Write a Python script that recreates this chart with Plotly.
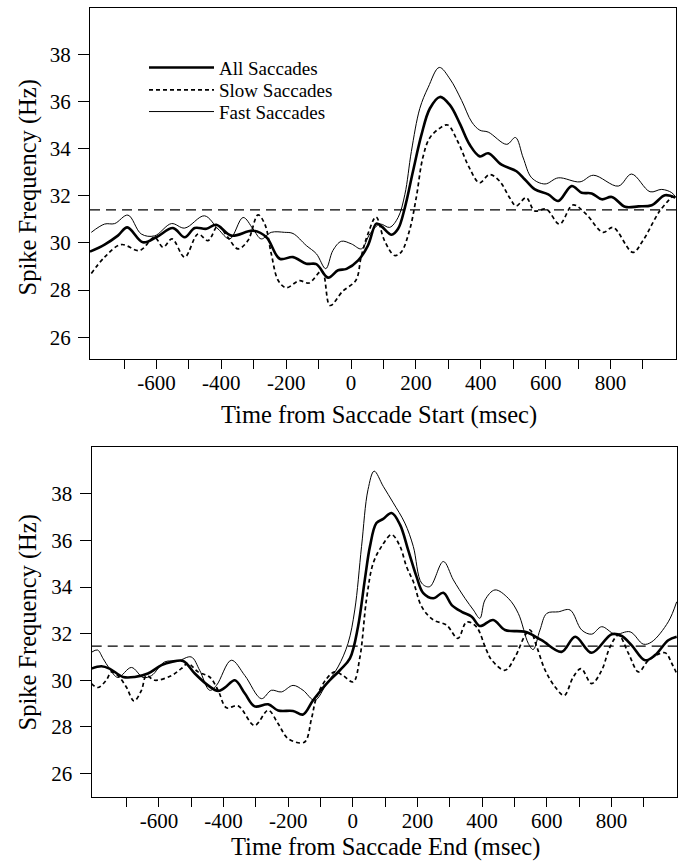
import plotly.graph_objects as go

# ---------------- data ----------------
BASELINE_START = 31.40
BASELINE_END = 31.47

# Top panel: time from saccade start
start_all_t = [-805, -760, -719, -690, -642, -601, -549, -513, -482, -446, -416, -369, -302, -261, -220, -179, -138, -107, -71, -40, -14, 22, 52, 78, 94, 125, 145, 166, 191, 217, 243, 274, 305, 335, 366, 397, 423, 464, 510, 536, 567, 608, 639, 680, 711, 742, 773, 804, 845, 886, 927, 968, 1000]
start_all_v = [29.63, 29.93, 30.31, 30.66, 30.03, 30.24, 30.63, 30.24, 30.63, 30.6, 30.77, 30.31, 30.52, 30.24, 29.33, 29.40, 29.12, 29.10, 28.53, 28.84, 28.9, 29.26, 29.89, 30.82, 30.7, 30.35, 30.6, 31.5, 33.04, 34.58, 35.7, 36.19, 35.84, 35.07, 34.16, 33.67, 33.8, 33.32, 33.04, 32.69, 32.27, 32.06, 31.78, 32.41, 32.13, 32.1, 31.85, 31.95, 31.53, 31.55, 31.6, 32.02, 31.92]

start_slow_t = [-801, -760, -709, -652, -606, -580, -552, -513, -472, -441, -410, -380, -349, -318, -287, -266, -246, -225, -200, -160, -130, -90, -65, -26, 15, 31, 52, 77, 103, 134, 154, 180, 201, 221, 242, 273, 298, 329, 365, 396, 427, 458, 489, 509, 540, 566, 602, 643, 684, 725, 777, 808, 869, 900, 952, 993]
start_slow_v = [28.7, 29.4, 29.93, 29.68, 30.24, 29.82, 30.17, 29.4, 30.38, 30.1, 30.73, 30.24, 29.75, 30.1, 31.19, 30.8, 29.54, 28.42, 28.1, 28.4, 28.3, 28.8, 27.35, 27.95, 28.42, 29.4, 30.38, 31.1, 30.1, 29.47, 29.6, 30.52, 31.92, 33.6, 34.44, 34.86, 35.0, 34.3, 33.18, 32.55, 32.9, 32.62, 31.92, 31.57, 31.92, 31.36, 31.43, 30.8, 31.61, 31.22, 30.45, 30.66, 29.6, 30.1, 31.36, 32.0]

start_fast_t = [-801, -760, -729, -688, -647, -606, -554, -513, -452, -410, -374, -333, -302, -277, -246, -205, -179, -138, -107, -78, -56, -30, 1, 32, 58, 89, 119, 145, 166, 186, 212, 238, 272, 305, 341, 372, 397, 423, 480, 507, 531, 557, 598, 639, 706, 747, 824, 865, 922, 958, 989, 1002]
start_fast_v = [30.45, 30.8, 30.82, 31.18, 30.38, 30.3, 30.82, 30.63, 31.15, 30.59, 30.17, 31.08, 30.59, 30.17, 30.45, 30.45, 30.4, 29.89, 29.54, 28.91, 29.68, 30.07, 29.96, 29.75, 30.38, 30.8, 30.66, 31.08, 32.06, 33.88, 35.7, 36.6, 37.44, 36.95, 36.04, 35.13, 34.78, 34.7, 34.18, 34.47, 33.6, 32.76, 32.5, 32.76, 32.59, 32.87, 32.41, 32.92, 32.17, 32.27, 32.13, 31.92]

# Bottom panel: time from saccade end
end_all_t = [-809, -778, -753, -711, -675, -634, -592, -561, -525, -489, -448, -417, -396, -365, -334, -304, -262, -231, -185, -154, -123, -81, -40, -9, 16, 37, 53, 73, 94, 120, 146, 171, 197, 218, 249, 280, 306, 337, 368, 393, 434, 471, 533, 584, 646, 688, 739, 801, 832, 863, 904, 935, 976, 1002]
end_all_v = [30.5, 30.6, 30.5, 30.14, 30.14, 30.29, 30.65, 30.79, 30.83, 30.29, 29.78, 29.54, 29.68, 30.0, 29.43, 28.88, 28.97, 28.7, 28.68, 28.53, 29.14, 29.86, 30.43, 30.94, 32.3, 34.31, 35.75, 36.75, 36.93, 37.18, 36.68, 35.6, 34.45, 33.74, 33.52, 33.76, 33.23, 32.94, 32.73, 32.33, 32.59, 32.16, 32.08, 31.72, 31.22, 31.87, 31.18, 31.98, 31.9, 31.5, 30.86, 31.08, 31.72, 31.87]

end_slow_t = [-809, -789, -763, -747, -727, -701, -677, -654, -639, -613, -561, -531, -510, -479, -443, -417, -391, -355, -304, -262, -231, -200, -150, -128, -112, -81, -56, -30, 1, 22, 42, 63, 89, 120, 146, 166, 187, 213, 249, 290, 325, 352, 382, 413, 430, 471, 502, 533, 548, 569, 595, 626, 654, 682, 706, 739, 770, 796, 822, 853, 884, 915, 966, 987, 1002]
end_slow_v = [29.86, 29.69, 30.0, 30.36, 30.2, 29.71, 29.11, 29.57, 30.2, 30.0, 30.2, 30.5, 30.72, 30.36, 30.14, 29.57, 28.82, 28.9, 28.06, 28.71, 28.13, 27.49, 27.34, 28.35, 29.28, 30.07, 30.36, 30.2, 29.93, 31.0, 33.45, 35.03, 35.75, 36.25, 35.75, 34.88, 34.24, 33.16, 32.59, 32.37, 31.8, 32.5, 32.3, 31.3, 30.86, 30.43, 31.0, 31.94, 32.16, 31.44, 30.43, 29.71, 29.35, 30.14, 30.5, 29.86, 30.43, 31.44, 31.94, 31.15, 30.36, 30.86, 31.18, 30.72, 30.29]

end_fast_t = [-809, -790, -773, -753, -727, -685, -649, -623, -582, -541, -500, -474, -443, -422, -376, -334, -283, -252, -221, -185, -154, -118, -81, -46, -15, 6, 27, 47, 66, 94, 125, 161, 187, 213, 238, 280, 311, 347, 373, 393, 409, 440, 481, 512, 543, 558, 579, 600, 636, 672, 708, 739, 770, 811, 858, 899, 925, 976, 1002]
end_fast_v = [31.2, 31.3, 30.94, 30.5, 30.12, 30.55, 30.12, 30.2, 30.79, 30.83, 31.0, 30.43, 29.57, 29.78, 30.86, 30.2, 29.21, 29.57, 29.5, 29.78, 29.57, 29.14, 29.86, 30.57, 31.58, 33.02, 35.75, 38.19, 38.98, 38.33, 37.62, 36.75, 35.75, 34.17, 34.02, 35.1, 34.31, 33.52, 33.02, 32.66, 33.45, 33.88, 33.52, 32.87, 31.58, 31.32, 32.16, 32.87, 32.94, 33.02, 32.16, 31.98, 32.3, 31.98, 32.08, 31.55, 31.65, 32.51, 33.37]

series_names = ["All Saccades", "Slow Saccades", "Fast Saccades"]
x_tick_vals = [-700, -600, -500, -400, -300, -200, -100, 0, 100, 200, 300, 400, 500, 600, 700, 800, 900]
x_tick_text = ["", "-600", "", "-400", "", "-200", "", "0", "", "200", "", "400", "", "600", "", "800", ""]
y_tick_vals = [26, 28, 30, 32, 34, 36, 38]
x_titles = ["Time from Saccade Start (msec)", "Time from Saccade End (msec)"]
y_title = "Spike Frequency (Hz)"

# ---------------- figure ----------------
W, H = 686, 863
FONT = "Liberation Serif, Times New Roman, serif"
TITLE_SIZE = 24.5

styles = [
    dict(color="black", width=2.6),
    dict(color="black", width=1.7, dash="4px,3px"),
    dict(color="black", width=1.0),
]
legend_ids = ["legend", "legend2", "legend3"]

fig = go.Figure()
panels = [
    (start_all_t, start_all_v, start_slow_t, start_slow_v, start_fast_t, start_fast_v, "x", "y", True),
    (end_all_t, end_all_v, end_slow_t, end_slow_v, end_fast_t, end_fast_v, "x2", "y2", False),
]
for (at, av, st, sv, ft, fv, xa, ya, show) in panels:
    for i, (t, v) in enumerate([(at, av), (st, sv), (ft, fv)]):
        fig.add_trace(go.Scatter(x=t, y=v, mode="lines", name=series_names[i],
                                 line=dict(shape="spline", smoothing=1.0, **styles[i]),
                                 xaxis=xa, yaxis=ya, showlegend=show,
                                 legend=legend_ids[i]))

# baselines
for xr, yr, b in [("x domain", "y", BASELINE_START), ("x2 domain", "y2", BASELINE_END)]:
    fig.add_shape(type="line", xref=xr, yref=yr, x0=0, x1=1, y0=b, y1=b,
                  line=dict(color="black", width=1.2, dash="10px,6px"))

def px_x(p):
    return p / W

def px_y(p):
    return 1 - p / H

axis_common = dict(showline=True, linecolor="black", linewidth=1.3, mirror=True,
                   ticks="outside", tickwidth=1, tickcolor="black",
                   showgrid=False, zeroline=False,
                   tickfont=dict(family=FONT, size=21, color="black"))
xaxis_common = dict(ticklen=9, tickvals=x_tick_vals, ticktext=x_tick_text,
                    ticklabelstandoff=-4, **axis_common)
yaxis_common = dict(ticklen=11, tickvals=y_tick_vals, ticklabelstandoff=3, **axis_common)

legend_rows = [67.7, 90, 111.7]
legend_common = dict(x=px_x(144), xanchor="left", yanchor="middle",
                     bgcolor="rgba(0,0,0,0)", font=dict(family=FONT, size=19, color="black"),
                     itemwidth=65)

fig.update_layout(
    width=W, height=H,
    margin=dict(l=0, r=0, t=0, b=0),
    paper_bgcolor="white", plot_bgcolor="white",
    font=dict(family=FONT, color="black"),
    xaxis=dict(domain=[px_x(90), px_x(676)], range=[-805, 1002], anchor="y", **xaxis_common),
    yaxis=dict(domain=[px_y(359), px_y(8)], range=[25.08, 39.96], anchor="x", **yaxis_common),
    xaxis2=dict(domain=[px_x(91.7), px_x(677)], range=[-808, 1003], anchor="y2", **xaxis_common),
    yaxis2=dict(domain=[px_y(796.7), px_y(446.7)], range=[25.0, 40.03], anchor="x2", **yaxis_common),
    showlegend=True,
    legend=dict(y=px_y(legend_rows[0]), **legend_common),
    legend2=dict(y=px_y(legend_rows[1]), **legend_common),
    legend3=dict(y=px_y(legend_rows[2]), **legend_common),
)

title_font = dict(family=FONT, size=TITLE_SIZE, color="black")
annotations = [
    dict(text=x_titles[0], x=px_x(378.5), y=px_y(415), xref="paper", yref="paper",
         showarrow=False, font=title_font, xanchor="center", yanchor="middle"),
    dict(text=x_titles[1], x=px_x(385.5), y=px_y(847), xref="paper", yref="paper",
         showarrow=False, font=title_font, xanchor="center", yanchor="middle"),
    dict(text=y_title, x=px_x(27), y=px_y(187.5), xref="paper", yref="paper", textangle=-90,
         showarrow=False, font=title_font, xanchor="center", yanchor="middle"),
    dict(text=y_title, x=px_x(27), y=px_y(622.5), xref="paper", yref="paper", textangle=-90,
         showarrow=False, font=title_font, xanchor="center", yanchor="middle"),
]
fig.update_layout(annotations=annotations)

fig.write_html("out.html")
